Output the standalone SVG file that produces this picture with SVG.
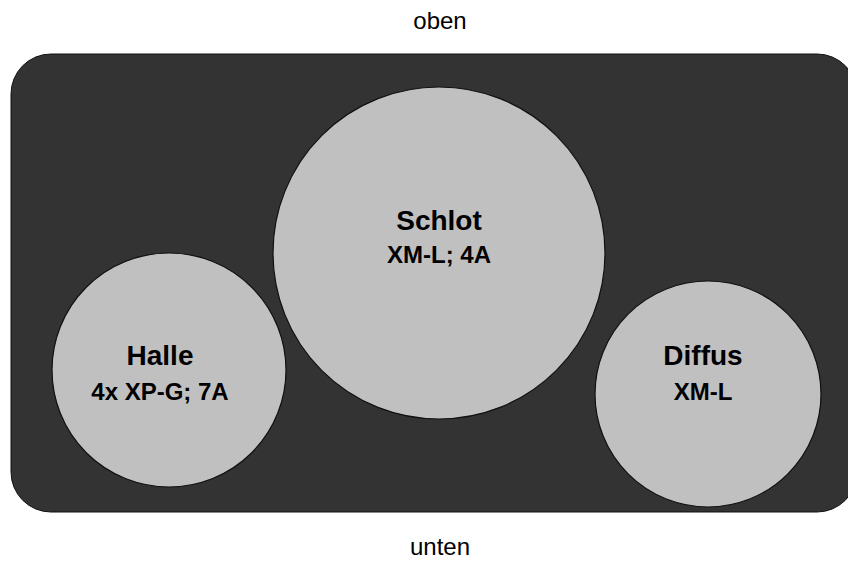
<svg xmlns="http://www.w3.org/2000/svg" width="848" height="561" viewBox="0 0 848 561">
<style>
.bg{fill:#333333;stroke:#111111;stroke-width:1}
.c{fill:#c0c0c0;stroke:#111111;stroke-width:1.2}
.t{font-family:"Liberation Sans",Arial,sans-serif;font-weight:bold;text-anchor:middle;fill:#000}
.t1{font-size:28px}
.t2{font-size:24px}
.lab{font-family:"Liberation Sans",Arial,sans-serif;font-size:24px;text-anchor:middle;fill:#000}
</style>
<rect width="848" height="561" fill="#ffffff"/>
<g id="frame">
<rect class="bg" x="11" y="54" width="846" height="458" rx="40" ry="40"/>
</g>
<g id="labels">
<text class="lab" x="440" y="29">oben</text>
<text class="lab" x="440" y="555">unten</text>
</g>
<g id="connectors"></g>
<g id="schlot">
<circle class="c" cx="439" cy="253" r="166"/>
<text class="t t1" x="439" y="230">Schlot</text>
<text class="t t2" x="439" y="263">XM-L; 4A</text>
</g>
<g id="halle">
<circle class="c" cx="169" cy="370" r="117"/>
<text class="t t1" x="160" y="365">Halle</text>
<text class="t t2" x="160" y="400">4x XP-G; 7A</text>
</g>
<g id="diffus">
<circle class="c" cx="708" cy="394" r="113"/>
<text class="t t1" x="703" y="365">Diffus</text>
<text class="t t2" x="703" y="400">XM-L</text>
</g>
</svg>
